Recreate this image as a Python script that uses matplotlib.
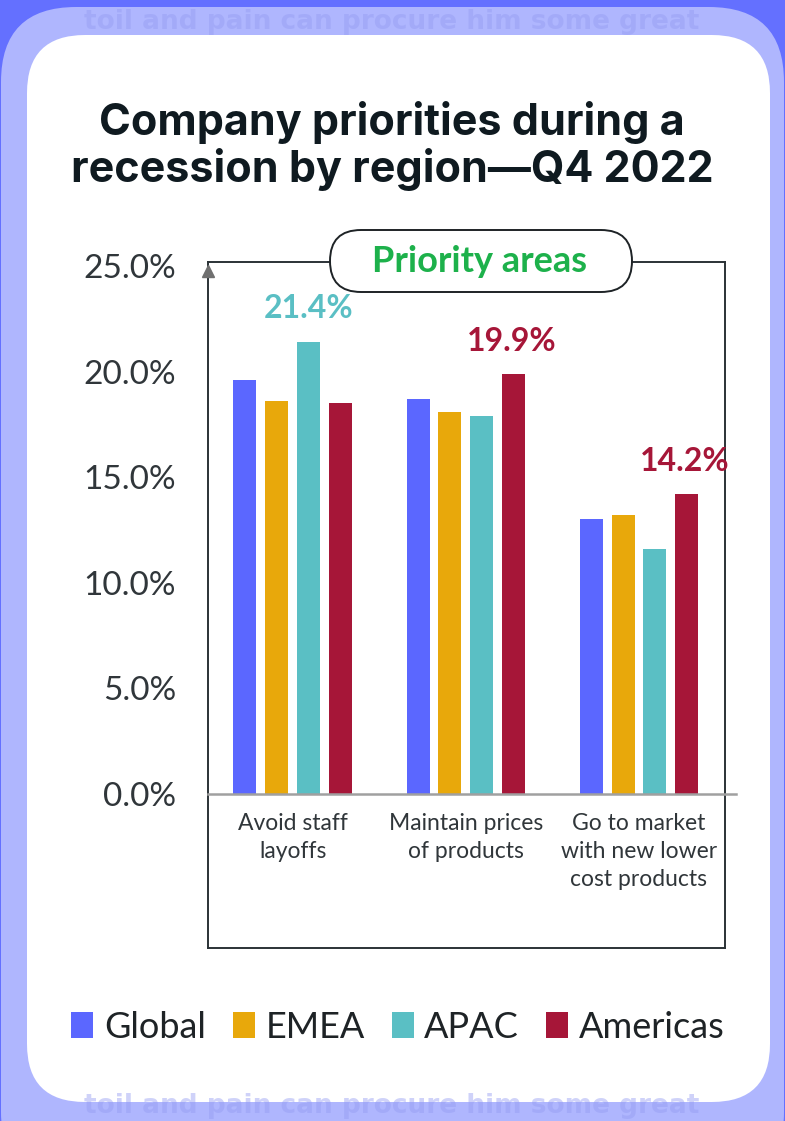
import matplotlib.pyplot as plt
import numpy as np
from matplotlib.patches import FancyBboxPatch

# data
categories = ["Avoid staff\nlayoffs", "Maintain prices\nof products", "Go to market\nwith new lower\ncost products"]
regions = ["Global", "EMEA", "APAC", "Americas"]
global_vals = [19.6, 18.7, 13.0]
emea_vals = [18.6, 18.1, 13.2]
apac_vals = [21.4, 17.9, 11.6]
americas_vals = [18.5, 19.9, 14.2]
yticks = [0, 5, 10, 15, 20, 25]
ytick_labels = ["0.0%", "5.0%", "10.0%", "15.0%", "20.0%", "25.0%"]

colors = ["#5B67FF", "#E8A80B", "#5ABFC4", "#A61638"]
W, H = 785, 1121

fig = plt.figure(figsize=(W / 100, H / 100), dpi=100)
fig.patch.set_facecolor("#6470FF")

# background layer in pixel coords (top-left origin)
bg = fig.add_axes([0, 0, 1, 1], zorder=-1)
bg.set_xlim(0, W)
bg.set_ylim(H, 0)
bg.axis("off")

bg.add_patch(FancyBboxPatch((1, 7), 783, 1180, boxstyle="round,pad=0,rounding_size=75",
                            fc="#AFB6FE", ec="none"))
# faint text behind the panel
for yy in [22, 1106]:
    bg.text(392, yy, "toil and pain can procure him some great",
            fontsize=19, color="#959DF2", alpha=0.45, va="center", ha="center",
            family="DejaVu Sans", weight="bold")
bg.add_patch(FancyBboxPatch((27, 35), 743, 1067, boxstyle="round,pad=0,rounding_size=58",
                            fc="white", ec="none"))

# title
bg.text(392, 146, "Company priorities during a\nrecession by region\u2014Q4 2022",
        ha="center", va="center", fontsize=31, fontweight="bold",
        family="Inter", color="#0F1A20", linespacing=1.1)

# main axes: frame from x=208..725, y=262..948 ; zero at 794, 25 at 266
left, right, top, bottom = 208, 725, 262, 948
ppu = (794 - 266) / 25.0
ax = fig.add_axes([left / W, 1 - bottom / H, (right - left) / W, (bottom - top) / H])
ax.set_ylim(-(bottom - 794) / ppu, 25 + (266 - top) / ppu)
gap = 173.0
ax.set_xlim(-(292.5 - left) / gap, 2 + (right - 639) / gap)
ax.set_facecolor("none")

x = np.arange(len(categories))
width = 23 / gap
step = 31.7 / gap
series = [global_vals, emea_vals, apac_vals, americas_vals]
for i, (vals, c, name) in enumerate(zip(series, colors, regions)):
    ax.bar(x + (i - 1.5) * step, vals, width, color=c, label=name, zorder=3)

ax.set_yticks(yticks)
ax.set_yticklabels(ytick_labels, family="Lato", fontsize=24, color="#30363A")
ax.tick_params(axis="y", length=0, pad=23)
ax.set_xticks([])
for s in ax.spines.values():
    s.set_color("#2B3236")
    s.set_linewidth(1.4)

# baseline past the frame
x_end = ax.get_xlim()[0] + (735 - left) / gap
ax.plot([ax.get_xlim()[0], x_end], [0, 0], color="#A0A0A0", lw=1.8, clip_on=False, zorder=4)
# arrow head on y axis
ax.plot([ax.get_xlim()[0]], [24.75], marker="^", ms=9, color="#707070", clip_on=False, zorder=5)

for xi, lab in zip(x, categories):
    ax.text(xi, -0.9, lab, ha="center", va="top", fontsize=16.5, family="Lato",
            color="#30363A", linespacing=1.42)

# value callouts
lab_kw = dict(ha="center", va="bottom", fontsize=23, fontweight="bold", family="Lato")
ax.text(x[0] + 0.5 * step, apac_vals[0] + 0.9, f"{apac_vals[0]:.1f}%", color=colors[2], **lab_kw)
ax.text(x[1] + 1.5 * step - 0.01, americas_vals[1] + 0.85, f"{americas_vals[1]:.1f}%",
        color=colors[3], **lab_kw)
ax.text(x[2] + 1.5 * step - 0.01, americas_vals[2] + 0.85, f"{americas_vals[2]:.1f}%",
        color=colors[3], **lab_kw)

# "Priority areas" pill over the frame top
pill = FancyBboxPatch((330, 230), 302, 62, boxstyle="round,pad=0,rounding_size=31",
                      fc="white", ec="#1E2326", lw=1.4, transform=bg.transData, zorder=10)
fig.add_artist(pill)
fig.text(480 / W, 1 - 261 / H, "Priority areas", ha="center", va="center", fontsize=26,
         fontweight="bold", family="Lato", color="#1DB14B", zorder=11)

# legend
handles, labels = ax.get_legend_handles_labels()
fig.legend(handles, labels, loc="center", bbox_to_anchor=(398 / W, 1 - 1027 / H), ncol=4,
           frameon=False, prop={"family": "Lato", "size": 26},
           handlelength=0.6, handleheight=0.7, handletextpad=0.3, columnspacing=0.75,
           labelcolor="#1E2326")

fig.savefig("out.png", dpi=100)
